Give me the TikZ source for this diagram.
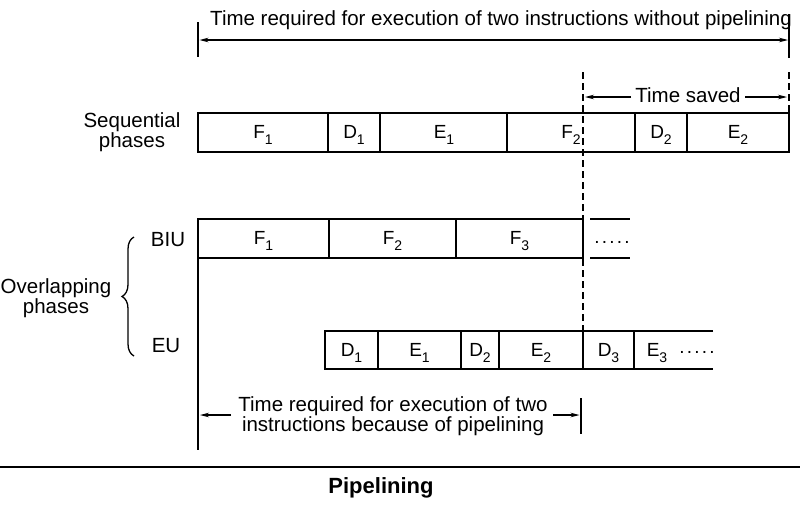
\documentclass[tikz,border=0pt]{standalone}
\usepackage{fontspec}
\setmainfont{Liberation Sans}
\usetikzlibrary{arrows.meta,decorations.pathreplacing}
\newcommand{\subs}[1]{\raisebox{-0.32em}{\fontsize{14}{14}\selectfont #1}}
\newcommand{\dotrow}{.\kern2.2pt.\kern2.2pt.\kern2.2pt.\kern2.2pt.}
\begin{document}
\begin{tikzpicture}[x=1pt,y=-1pt,
  txt/.style={font=\fontsize{20.5}{20}\selectfont, inner sep=0pt},
  lbl/.style={font=\fontsize{19}{19}\selectfont, inner sep=0pt, anchor=base},
  outer/.style={line width=2.6pt},
  div/.style={line width=1.7pt},
  tick/.style={line width=1.8pt},
  dim/.style={line width=1.1pt, -{Stealth[length=9pt,width=4.5pt]}},
  dimboth/.style={line width=1.1pt, {Stealth[length=9pt,width=4.5pt]}-{Stealth[length=9pt,width=4.5pt]}},
  dashv/.style={line width=1.8pt, dash pattern=on 7pt off 4pt},
]
\useasboundingbox (0,0) rectangle (800,504);
\fill[white] (0,0) rectangle (800,504);

% ---- top dimension
\node[txt, anchor=base] (ttop) at (501,25) {Time required for execution of two instructions without pipelining};
\coordinate (tL1) at (198,22); \coordinate (tL2) at (198,57);
\coordinate (tR1) at (789,14); \coordinate (tR2) at (789,58);
\draw[tick] (tL1) -- (tL2);
\draw[tick] (tR1) -- (tR2);
\coordinate (aL) at (199.5,40); \coordinate (aR) at (788,40);
\draw[dimboth] (aL) -- (aR);

% ---- time saved
\coordinate (rdT) at (789,72); \coordinate (rdB) at (789,113);
\draw[dashv] (rdT) -- (rdB);
\node[txt, anchor=base] (tsaved) at (688,102) {Time saved};
\coordinate (ts1) at (631,97); \coordinate (ts1e) at (585,97);
\coordinate (ts2) at (745,97); \coordinate (ts2e) at (787,97);
\draw[dim] (ts1) -- (ts1e);
\draw[dim] (ts2) -- (ts2e);

% ---- sequential phases
\node[txt, align=center] (seq) at (132,132) {Sequential\\phases};
\draw[outer] (198,113) rectangle (789,152);
\foreach \x in {328,380,507,635,687} \draw[div] (\x,113) -- (\x,152);
\node[lbl] (sF1) at (263,138) {F\subs{1}};
\node[lbl] (sD1) at (354,138) {D\subs{1}};
\node[lbl] (sE1) at (444,138) {E\subs{1}};
\node[lbl] (sF2) at (571,138) {F\subs{2}};
\node[lbl] (sD2) at (661,138) {D\subs{2}};
\node[lbl] (sE2) at (738,138) {E\subs{2}};

% ---- BIU row
\node[txt] (biu) at (168,240) {BIU};
\draw[outer] (198,219) rectangle (583,258);
\foreach \x in {329,456} \draw[div] (\x,219) -- (\x,258);
\node[lbl] (bF1) at (263.5,244) {F\subs{1}};
\node[lbl] (bF2) at (392.5,244) {F\subs{2}};
\node[lbl] (bF3) at (519.5,244) {F\subs{3}};
\coordinate (bc1) at (590,219); \coordinate (bc2) at (630,219);
\coordinate (bc3) at (590,258); \coordinate (bc4) at (630,258);
\draw[div] (bc1) -- (bc2);
\draw[div] (bc3) -- (bc4);
\node[lbl] (bdots) at (612,243) {\dotrow};

% ---- overlapping brace
\node[txt, align=center] (ovl) at (56,298) {Overlapping\\phases};
\coordinate (brB) at (134,356); \coordinate (brT) at (134,237);
\draw[line width=1.3pt, decorate, decoration={brace, amplitude=12pt}] (brB) -- (brT);

% ---- EU row
\node[txt] (eu) at (166,346) {EU};
\draw[outer] (713,331) -- (325,331) -- (325,369) -- (713,369);
\foreach \x in {378,461,499,583,634} \draw[div] (\x,331) -- (\x,369);
\node[lbl] (eD1) at (351.5,356) {D\subs{1}};
\node[lbl] (eE1) at (419.5,356) {E\subs{1}};
\node[lbl] (eD2) at (480,356) {D\subs{2}};
\node[lbl] (eE2) at (541,356) {E\subs{2}};
\node[lbl] (eD3) at (608.5,356) {D\subs{3}};
\node[lbl] (eE3) at (657,356) {E\subs{3}};
\node[lbl] (edots) at (697,353) {\dotrow};

% ---- vertical guide lines
\coordinate (lvT) at (198,258); \coordinate (lvB) at (198,450);
\draw[div] (lvT) -- (lvB);
\coordinate (dsT) at (583,72); \coordinate (dsB) at (583,331);
\draw[dashv] (dsT) -- (dsB);

% ---- bottom dimension
\node[txt, align=center] (tpipe) at (393,416) {Time required for execution of two\\instructions because of pipelining};
\coordinate (bl1) at (231,415); \coordinate (bl2) at (200,415);
\coordinate (br1) at (553,415); \coordinate (br2) at (579.5,415);
\draw[dim] (bl1) -- (bl2);
\draw[dim] (br1) -- (br2);
\coordinate (btT) at (581,398); \coordinate (btB) at (581,434);
\draw[tick] (btT) -- (btB);

% ---- caption
\coordinate (ruleL) at (0,467); \coordinate (ruleR) at (800,467);
\draw[line width=2.5pt] (ruleL) -- (ruleR);
\node[font=\fontsize{22}{22}\selectfont\bfseries, anchor=base, inner sep=0pt] (cap) at (381,493) {Pipelining};
\end{tikzpicture}
\end{document}
